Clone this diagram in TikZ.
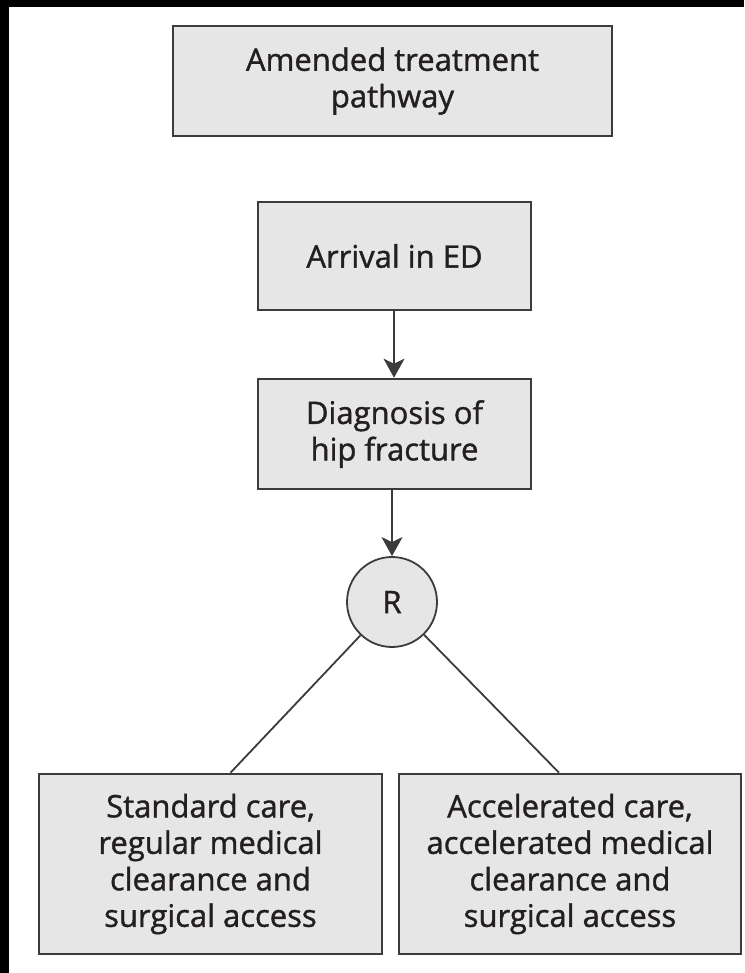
\documentclass[tikz,border=0pt]{standalone}
\usepackage{fontspec}
\setmainfont{Open Sans}[BoldFont={Open Sans},BoldFeatures={FakeBold=1.2}]
\usetikzlibrary{arrows.meta,positioning}
\definecolor{boxfill}{HTML}{E6E6E6}
\definecolor{boxline}{HTML}{3C3C3C}
\definecolor{txt}{HTML}{231F20}
\tikzset{
  flowbox/.style={draw=boxline, line width=2.6pt, fill=boxfill, rectangle, align=center,
    inner sep=0pt, text=txt, font=\fontsize{31}{36.5}\selectfont\bfseries},
  conn/.style={draw=boxline, line width=1.8pt},
  arr/.style={conn, -{Stealth[length=19pt,width=21pt,inset=5pt]}}
}
\begin{document}
\begin{tikzpicture}[x=1pt,y=-1pt]
\useasboundingbox (0,0) rectangle (744,973);
\fill[white] (0,0) rectangle (744,973);
\fill[black] (0,0) rectangle (9,973);
\fill[black] (0,0) rectangle (744,7);
\node[flowbox, minimum width=439pt, minimum height=110pt] (top) at (392.5,81) {Amended treatment\\pathway};
\node[flowbox, minimum width=273pt, minimum height=108pt] (arrival) at (394.5,256) {Arrival in ED};
\node[flowbox, minimum width=273pt, minimum height=110pt] (diag) at (394.5,434) {Diagnosis of\\hip fracture};
\node[flowbox, circle, minimum size=90pt, line width=1.8pt] (R) at (392,602) {R};
\node[flowbox, minimum width=343pt, minimum height=180pt] (left) at (210.5,864) {Standard care,\\regular medical\\clearance and\\surgical access};
\node[flowbox, minimum width=342pt, minimum height=180pt] (right) at (570,864) {Accelerated care,\\accelerated medical\\clearance and\\surgical access};
\coordinate (lend) at ([xshift=20pt]left.north);
\coordinate (rend) at ([xshift=-11pt]right.north);
\draw[arr] (arrival.south -| 394,0) -- (diag.north -| 394,0);
\draw[arr] (diag.south -| R.north) -- (R.north);
\draw[conn] (R) -- (lend);
\draw[conn] (R) -- (rend);
\end{tikzpicture}
\end{document}
